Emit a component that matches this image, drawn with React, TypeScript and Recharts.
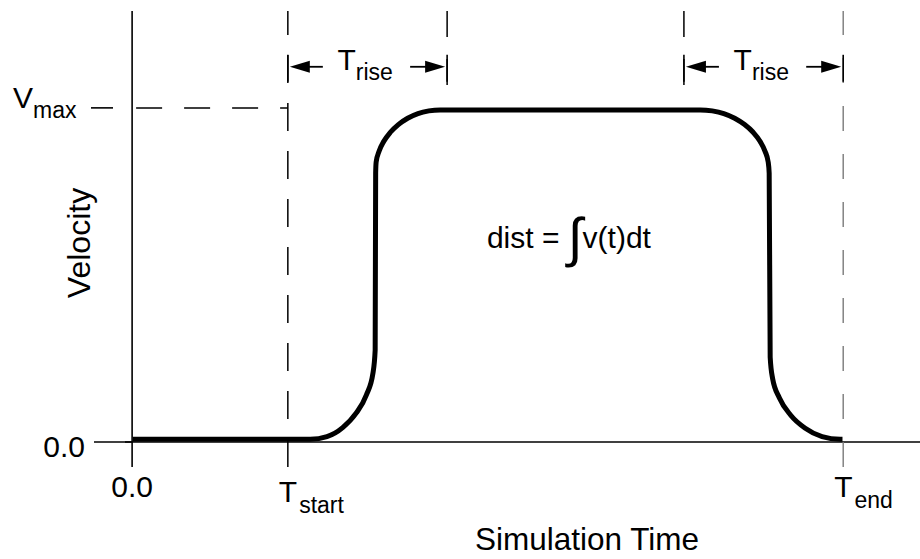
import { LineChart, Line, XAxis, YAxis, ReferenceLine, ReferenceDot } from "recharts";

const FONT = '"Liberation Sans", Arial, Helvetica, sans-serif';

// time in units where T_end = 10, velocity normalised so V_max = 1
const timePoints = [
  0.01, 2.504, 2.74, 2.961, 3.15, 3.295, 3.387, 3.418, 3.425, 3.432, 3.473, 3.54,
  3.632, 3.744, 3.875, 4.02, 4.173, 4.332,
  7.989, 8.158, 8.321, 8.474, 8.613, 8.733, 8.83, 8.901, 8.945, 8.959, 8.973,
  9.007, 9.105, 9.262, 9.466, 9.703, 9.958, 9.99,
];
const velocityPoints = [
  0.008, 0.008, 0.016, 0.043, 0.086, 0.141, 0.206, 0.275, 0.805, 0.838, 0.87, 0.9,
  0.927, 0.95, 0.969, 0.983, 0.991, 0.994,
  0.994, 0.991, 0.983, 0.969, 0.95, 0.927, 0.9, 0.87, 0.838, 0.805, 0.254,
  0.19, 0.131, 0.08, 0.041, 0.016, 0.008, 0.008,
];

const T_START = 2.19;
const T_RISE = 2.24;
const T_END = 10;
const V_MAX = 1;

const xTicks = [0, T_START, T_END];
const xTickMain = ["0.0", "T", "T"];
const xTickSub = ["", "start", "end"];
const yTicks = [0, V_MAX];
const yTickMain = ["0.0", "V"];
const yTickSub = ["", "max"];

const riseWindows = [
  [T_START, T_START + T_RISE],
  [T_END - T_RISE, T_END],
];
const ARROW_V = 1.123;
const RISE_LINE_BOTTOM = 1.027;

// annotation anchor (text start / baseline)
const DIST_AT = { t: 4.99, v: 0.581 };

const T_DOMAIN: [number, number] = [-0.1, 11.08];
const V_DOMAIN: [number, number] = [-0.075, 1.29];

const data = timePoints.map((t, i) => ({ t, v: velocityPoints[i] }));

const W = 920;
const H = 559;
const PLOT_LEFT = 125;
const PLOT_TOP = 11;
const PLOT_BOTTOM = 467;
const Y_AXIS_W = 60;
const X_AXIS_H = 30;

function XTick(props: any) {
  const { x, index } = props;
  const base = PLOT_BOTTOM + 30 + (index === 1 ? 5 : 0);
  if (!xTickSub[index]) {
    return (
      <text x={x} y={base} textAnchor="middle" fontSize={30} fontFamily={FONT} fill="#000">
        {xTickMain[index]}
      </text>
    );
  }
  return (
    <text x={x - 9} y={base} fontSize={30} fontFamily={FONT} fill="#000">
      {xTickMain[index]}
      <tspan fontSize={23} dx={2} dy={11}>
        {xTickSub[index]}
      </tspan>
    </text>
  );
}

function YTick(props: any) {
  const { y, index } = props;
  if (!yTickSub[index]) {
    return (
      <g>
        <line x1={PLOT_LEFT - 31} x2={PLOT_LEFT + 7} y1={y} y2={y} stroke="#000" strokeWidth={1.6} />
        <text x={PLOT_LEFT - 40} y={y + 15} textAnchor="end" fontSize={30} fontFamily={FONT} fill="#000">
          {yTickMain[index]}
        </text>
      </g>
    );
  }
  return (
    <g>
      <line x1={PLOT_LEFT - 34} x2={PLOT_LEFT - 12} y1={y} y2={y} stroke="#000" strokeWidth={1.6} />
      <text x={13} y={y} fontSize={30} fontFamily={FONT} fill="#000">
        {yTickMain[index]}
        <tspan fontSize={23} dy={10}>
          {yTickSub[index]}
        </tspan>
      </text>
    </g>
  );
}

function RiseArrow(props: any) {
  const { x1, x2, y1 } = props;
  const y = y1;
  const mid = (x1 + x2) / 2;
  return (
    <g>
      <line x1={x1} x2={x1} y1={y - 12} y2={y + 15} stroke="#000" strokeWidth={1.6} />
      <line x1={x2} x2={x2} y1={y - 12} y2={y + 15} stroke="#000" strokeWidth={1.6} />
      <polygon points={`${x1 + 2},${y} ${x1 + 22},${y - 6} ${x1 + 22},${y + 6}`} fill="#000" />
      <line x1={x1 + 20} x2={x1 + 35} y1={y} y2={y} stroke="#000" strokeWidth={1.8} />
      <polygon points={`${x2 - 2},${y} ${x2 - 22},${y - 6} ${x2 - 22},${y + 6}`} fill="#000" />
      <line x1={x2 - 37} x2={x2 - 20} y1={y} y2={y} stroke="#000" strokeWidth={1.8} />
      <text x={mid - 30} y={y + 3} fontSize={30} fontFamily={FONT} fill="#000">
        T
        <tspan fontSize={23} dy={10}>
          rise
        </tspan>
      </text>
    </g>
  );
}

function DistLabel(props: any) {
  const { cx, cy } = props;
  return (
    <text x={cx} y={cy} fontSize={30} fontFamily={FONT} fill="#000">
      {"dist = "}
      <tspan fontSize={54} dy={8}>
        ∫
      </tspan>
      <tspan dy={-8}>v(t)dt</tspan>
    </text>
  );
}

export default function App() {
  return (
    <div style={{ width: W, height: H, background: "#fff" }}>
      <style>{"body{margin:0}"}</style>
      <LineChart
        width={W}
        height={H}
        data={data}
        margin={{
          top: PLOT_TOP,
          right: 0,
          left: PLOT_LEFT - Y_AXIS_W,
          bottom: H - PLOT_BOTTOM - X_AXIS_H,
        }}
        style={{ fontFamily: FONT }}
      >
        <XAxis
          type="number"
          dataKey="t"
          domain={T_DOMAIN}
          allowDataOverflow
          ticks={xTicks}
          tick={<XTick />}
          axisLine={false}
          tickLine={false}
          tickSize={0}
          height={X_AXIS_H}
          interval={0}
          label={{
            content: (p: any) => (
              <text
                x={p.viewBox.x + 462}
                y={p.viewBox.y + 83}
                textAnchor="middle"
                fontSize={31.5}
                fontFamily={FONT}
                fill="#000"
              >
                Simulation Time
              </text>
            ),
          }}
        />
        <YAxis
          type="number"
          domain={V_DOMAIN}
          allowDataOverflow
          ticks={yTicks}
          tick={<YTick />}
          axisLine={false}
          tickLine={false}
          tickSize={0}
          width={Y_AXIS_W}
          interval={0}
          label={{
            content: (p: any) => {
              const cx = p.viewBox.x + 14;
              const cy = p.viewBox.y + 232;
              return (
                <text
                  x={cx}
                  y={cy}
                  transform={`rotate(-90 ${cx} ${cy})`}
                  textAnchor="middle"
                  dominantBaseline="central"
                  fontSize={32}
                  fontFamily={FONT}
                  fill="#000"
                >
                  Velocity
                </text>
              );
            },
          }}
        />
        <ReferenceLine x={0} stroke="#000" strokeWidth={1.6} />
        <ReferenceLine y={0} stroke="#000" strokeWidth={1.6} />
        <ReferenceLine x={T_START} stroke="#000" strokeWidth={1.5} strokeDasharray="28 20" />
        <ReferenceLine x={T_END} stroke="#7a7a7a" strokeWidth={1.4} strokeDasharray="25 23" />
        {riseWindows.map(([a, b], i) => (
          <ReferenceLine
            key={"rl" + i}
            segment={[
              { x: i === 0 ? b : a, y: V_DOMAIN[1] },
              { x: i === 0 ? b : a, y: RISE_LINE_BOTTOM },
            ]}
            stroke="#000"
            strokeWidth={1.5}
            strokeDasharray="26 22"
          />
        ))}
        <ReferenceLine
          segment={[
            { x: 0, y: V_MAX },
            { x: T_START, y: V_MAX },
          ]}
          stroke="#000"
          strokeWidth={1.5}
          strokeDasharray="26 22"
          strokeDashoffset={-4}
        />
        {riseWindows.map(([a, b], i) => (
          <ReferenceLine
            key={"ra" + i}
            segment={[
              { x: a, y: ARROW_V },
              { x: b, y: ARROW_V },
            ]}
            shape={(p: any) => <RiseArrow {...p} />}
          />
        ))}
        <ReferenceDot
          x={DIST_AT.t}
          y={DIST_AT.v}
          r={0}
          shape={(p: any) => <DistLabel {...p} />}
        />
        <Line
          type="monotone"
          dataKey="v"
          stroke="#000"
          strokeWidth={5}
          dot={false}
          activeDot={false}
          isAnimationActive={false}
        />
      </LineChart>
    </div>
  );
}
